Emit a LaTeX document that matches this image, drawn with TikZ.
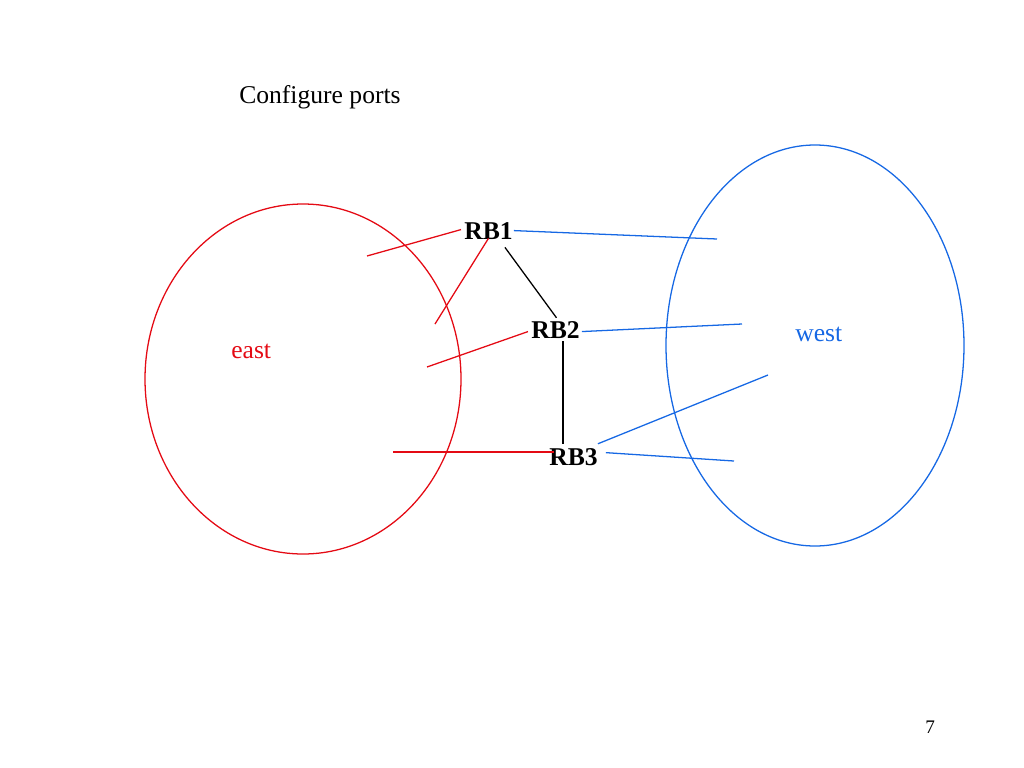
\documentclass[tikz,border=0pt]{standalone}
\usepackage{fontspec}
\setmainfont{Liberation Serif}
\usepackage{tikz}
\usetikzlibrary{calc}
\definecolor{eastred}{RGB}{228,10,20}
\definecolor{westblue}{RGB}{22,104,228}

\begin{document}
\begin{tikzpicture}[x=0.7031pt, y=-0.7031pt,
		txt/.style={anchor=base west, inner sep=0pt, font=\fontsize{18}{20}\selectfont},
		rb/.style={txt, font=\fontsize{18}{20}\selectfont\bfseries},
		eastline/.style={eastred, line width=0.9pt},
		westline/.style={westblue, line width=0.9pt},
		link/.style={black, line width=0.9pt}]
			%%%%% START %%%%%
			\useasboundingbox (0, 0) rectangle (1024, 768);
			
			\node[txt] (title) at (239, 103) {Configure ports};
			\node[txt] (page) at (925, 733) {\fontsize{13.5}{15}\selectfont 7};
			
			\draw[eastline] (303, 379) ellipse (158 and 175);
			\draw[westline] (815, 345.5) ellipse (149 and 200.5);
			\node[txt, eastred] (east) at (231, 358) {east};
			\node[txt, westblue] (west) at (795, 341) {west};
			
			\node[rb] (RB1) at (464, 239) {RB1};
			\node[rb] (RB2) at (531, 338) {RB2};
			\node[rb] (RB3) at (549, 465) {RB3};
			
			% ports into east
			\coordinate (e1) at (367, 256);
			\coordinate (e2) at (435, 324);
			\coordinate (e3) at (427, 367);
			\coordinate (e4) at (393, 452);
			\draw[eastline] (RB1.west) ++(-3, -1) -- (e1);
			\draw[eastline] (RB1.south) ++(0, -1) -- (e2);
			\draw[eastline] (RB2.west) ++(-3, 2) -- (e3);
			\draw[eastline] (e4) -- ($(e4 -| RB3.west)+(5, 0)$);
			
			% ports into west
			\coordinate (w1) at (717, 239);
			\coordinate (w2) at (742, 324);
			\coordinate (w3) at (768, 375);
			\coordinate (w4) at (734, 461);
			\draw[westline] (RB1.east) ++(1, 0) -- (w1);
			\draw[westline] (RB2.east) ++(2, 2) -- (w2);
			\draw[westline] (RB3.north east) ++(0, -4) -- (w3);
			\draw[westline] (RB3.east) ++(8, -4) -- (w4);
			
			% links between bridges
			\draw[link] (RB1.south east) ++(-8, 8) -- ($(RB2.north)+(1, -3)$);
			\draw[link] (RB2.south -| 563, 0) ++(0, 3) -- ($(RB3.north -| 563, 0)+(0, -4)$);
			
			%%%%% END %%%%%
		\end{tikzpicture}
\end{document}
